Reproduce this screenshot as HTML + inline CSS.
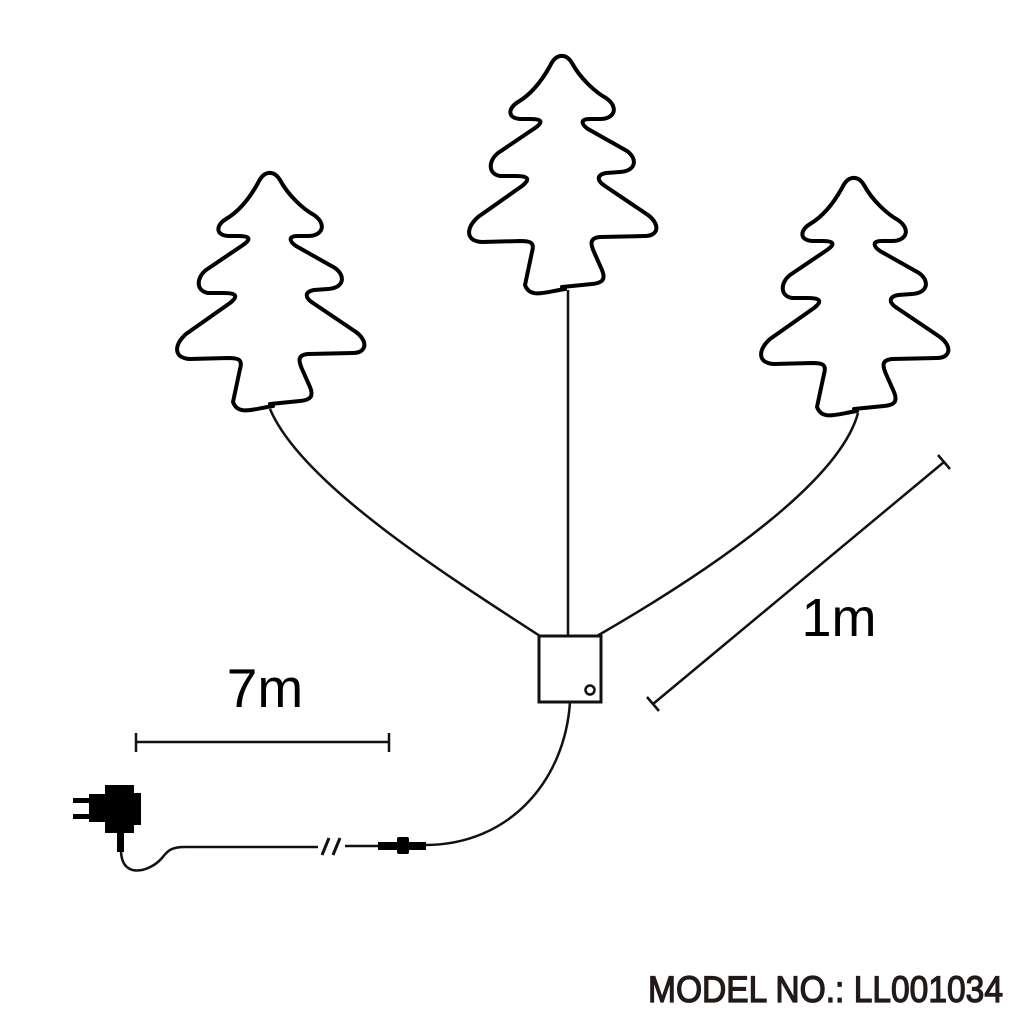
<!DOCTYPE html>
<html><head><meta charset="utf-8"><style>html,body{margin:0;padding:0;background:#fff}svg{display:block}</style></head>
<body>
<svg width="1024" height="1024" viewBox="0 0 1024 1024" xmlns="http://www.w3.org/2000/svg">
<defs>
<g id="tree">
<path d="M565,289 C545,292 530,299 525,285 L532,252 C535,242 530,241 520,241 L482,242 C465,241 466,228 478,217 L522,186 C531,179 528,176 516,176 L500,176 C488,174 488,161 498,153 L535,128 C545,121 540,119 530,119 L520,119 C507,118 508,108 518,102 C535,92 545,75 550,66 C556,53 566,53 572,63 C580,78 595,92 606,98 C619,107 615,119 600,119 L590,119 C580,119 581,124 588,129 L627,151 C638,159 636,171 620,172 L606,173 C596,175 597,181 605,186 L648,215 C661,225 658,236 645,236 L600,237 C590,238 590,243 594,252 L602,270 C606,280 602,283 592,284 L562,287" fill="none" stroke="#000" stroke-width="4" stroke-linecap="round" stroke-linejoin="round"/>
</g>
</defs>
<use href="#tree"/>
<use href="#tree" transform="translate(-292,117)"/>
<use href="#tree" transform="translate(292,122)"/>
<g fill="none" stroke="#111" stroke-width="2.5">
<line x1="568" y1="290" x2="568" y2="636"/>
<path d="M270,409 C300,480 430,565 540,636"/>
<path d="M858,413 C840,480 720,565 597,636"/>
<rect x="539" y="636" width="62" height="66" stroke-width="3"/>
<circle cx="590" cy="690" r="4.5" stroke-width="2.5"/>
<path d="M570,702 C565,780 510,845 425,845"/>
<path d="M121,850 C121,880 150,872 162,858 C168,850 172,847 185,847 L318,847"/>
<line x1="345" y1="846" x2="380" y2="846"/>
<line x1="136" y1="742" x2="389" y2="742"/>
<line x1="136" y1="733" x2="136" y2="752"/>
<line x1="389" y1="733" x2="389" y2="752"/>
<line x1="653" y1="704" x2="944" y2="462"/>
<line x1="647" y1="697" x2="659" y2="711"/>
<line x1="938" y1="455" x2="950" y2="469"/>
<line x1="322" y1="855" x2="329" y2="838" stroke-width="3"/>
<line x1="333" y1="855" x2="340" y2="838" stroke-width="3"/>
</g>
<g fill="#000">
<rect x="105" y="785" width="29" height="48"/>
<rect x="134" y="793" width="7" height="32"/>
<rect x="89" y="794" width="16" height="28"/>
<rect x="73" y="798" width="17" height="5"/>
<rect x="73" y="814" width="17" height="5"/>
<rect x="117" y="833" width="7" height="19"/>
<rect x="378" y="842" width="20" height="8"/>
<rect x="397" y="837" width="12" height="17" rx="2"/>
<rect x="408" y="842" width="18" height="8"/>
</g>
<g font-family="Liberation Sans, sans-serif" fill="#000">
<text x="265" y="707" font-size="55" text-anchor="middle">7m</text>
<text x="839" y="636" font-size="54" text-anchor="middle">1m</text>
<text x="648" y="1002" font-size="37" fill="#221a18" stroke="#221a18" stroke-width="1.3" textLength="355" lengthAdjust="spacingAndGlyphs">MODEL NO.: LL001034</text>
</g>
</svg>
</body></html>
